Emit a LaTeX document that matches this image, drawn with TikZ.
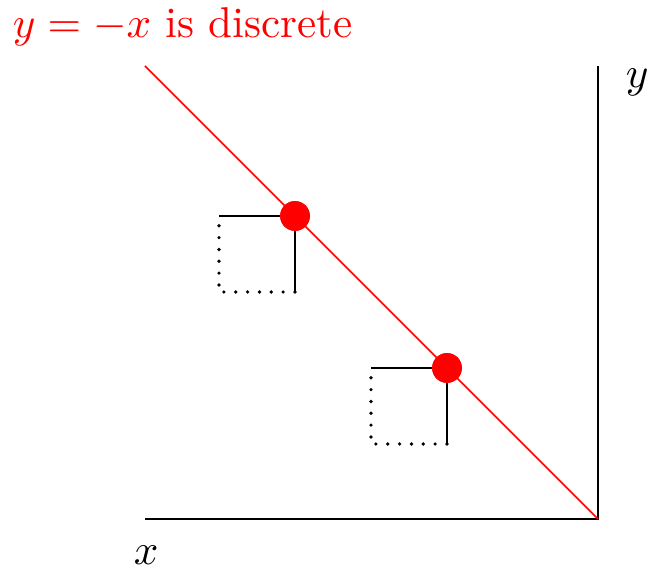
\documentclass[tikz,border=0pt]{standalone}
\begin{document}
\begin{tikzpicture}[x=0.232pt,y=-0.232pt,
  axis/.style={semithick},
  dotpt/.style={circle,fill=red,inner sep=0pt,minimum size=6.9pt},
  sqsolid/.style={semithick},
  sqdot/.style={line width=0.85pt,line cap=round,dash pattern=on 0pt off 2.75pt}]
\useasboundingbox (0,0) rectangle (647,571);
\coordinate (O) at (598,519);
\coordinate (Xend) at (145,519);
\coordinate (Yend) at (598,66);
\coordinate (Lend) at (145,66);
\draw[axis] (Xend) -- (O) -- (Yend);
\draw[red] (Lend) -- (O);
\coordinate (a1) at (219,216);
\coordinate (a2) at (219,292);
\coordinate (a3) at (295,292);
\coordinate (b1) at (371,368);
\coordinate (b2) at (371,444);
\coordinate (b3) at (447,444);
\node[dotpt] (p1) at (295,216) {};
\node[dotpt] (p2) at (447,368) {};
\draw[sqsolid] (a1) -- (p1.center) -- (a3);
\draw[sqdot] (a3) -- (a2) -- (a1);
\draw[sqsolid] (b1) -- (p2.center) -- (b3);
\draw[sqdot] (b3) -- (b2) -- (b1);
\node[dotpt] at (p1) {};
\node[dotpt] at (p2) {};
\node[anchor=base west,inner sep=0pt,text=red] (title) at (12,38) {$y=-x$ is discrete};
\node[anchor=base west,inner sep=0pt] (ylab) at (625,88) {$y$};
\node[anchor=base west,inner sep=0pt] (xlab) at (133,565) {$x$};
\end{tikzpicture}
\end{document}
